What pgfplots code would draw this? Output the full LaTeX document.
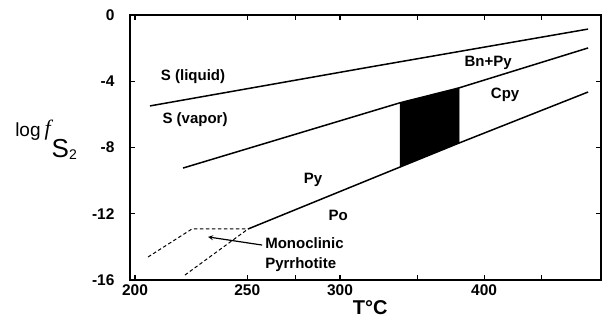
\documentclass[border=0pt]{standalone}
\usepackage{pgfplots}
\pgfplotsset{compat=1.18}
\usepackage{fontspec}
\setmainfont{Liberation Sans}
\newfontfamily\seriffont{Liberation Serif}
\begin{document}
\begin{tikzpicture}
\begin{axis}[
  scale only axis, width=471pt, height=265pt,
  x coord trafo/.code={\pgfmathparse{-1000/(#1+273.15)}},
  xmin=198, xmax=511, ymin=-16, ymax=0,
  xtick={200,250,300,400}, xticklabels={200,250,300,400},
  minor xtick={275,350,450},
  ytick={-16,-12,-8,-4,0},
  tick align=inside, major tick length=5pt, minor tick length=5pt,
  tick style={line width=1.2pt, black},
  axis line style={line width=1.6pt},
  tick label style={font=\fontsize{15.5}{15.5}\selectfont\bfseries},
  /pgf/number format/assume math mode=true,
  yticklabel style={xshift=-12pt},
  xticklabel style={yshift=-1pt},
  clip=false,
]
% invisible frame giving the reference's margins
\path (rel axis cs:-0.27601,-0.15849) rectangle (rel axis cs:1.02123,1.05660);

\addplot[line width=1.5pt] coordinates {(206.1,-5.49)(318.3,-3.14)(497.0,-0.85)};
\addplot[line width=1.5pt] coordinates {(220.2,-9.24)(337.8,-5.30)(380.2,-4.40)(497.0,-1.99)};
\addplot[line width=1.5pt] coordinates {(250.4,-12.92)(337.8,-9.18)(380.2,-7.73)(497.0,-4.65)};
\addplot[fill=black, draw=black] coordinates {(337.8,-9.18)(380.2,-7.73)(380.2,-4.40)(337.8,-5.30)} -- cycle;
\addplot[dash pattern=on 3.5pt off 2.5pt, line width=1pt] coordinates {(205.3,-14.61)(224.1,-12.92)(250.4,-12.92)};
\addplot[dash pattern=on 3.5pt off 2.5pt, line width=1pt] coordinates {(221.0,-15.70)(250.4,-12.92)};
\addplot[-stealth, line width=1.2pt] coordinates {(257.4,-13.89)(231.4,-13.40)};

\tikzset{lab/.style={font=\fontsize{15}{20}\selectfont\bfseries, inner sep=0pt}}
\node[lab] at (axis cs:224.6,-3.74) {S (liquid)};
\node[lab] at (axis cs:225.5,-6.34) {S (vapor)};
\node[lab] at (axis cs:403.3,-2.90) {Bn+Py};
\node[lab] at (axis cs:417.6,-4.83) {Cpy};
\node[lab] at (axis cs:284.5,-9.96) {Py};
\node[lab] at (axis cs:298.9,-12.08) {Po};
\node[lab, anchor=west, align=left] at (axis cs:258.9,-14.49) {Monoclinic\\Pyrrhotite};

\node[font=\fontsize{20}{20}\selectfont\bfseries, inner sep=0pt] at (axis description cs:0.510,-0.106) {T°C};
\node[anchor=base west, inner sep=0pt] at (axis description cs:-0.244,0.540)
  {\fontsize{19}{19}\selectfont log\hspace{4pt}\raisebox{1pt}{{\seriffont\itshape\fontsize{22}{22}\selectfont f}}\hspace{1pt}\raisebox{-21pt}{\fontsize{26}{26}\selectfont S\raisebox{-2pt}{\fontsize{14}{14}\selectfont 2}}};
\end{axis}
\end{tikzpicture}
\end{document}
